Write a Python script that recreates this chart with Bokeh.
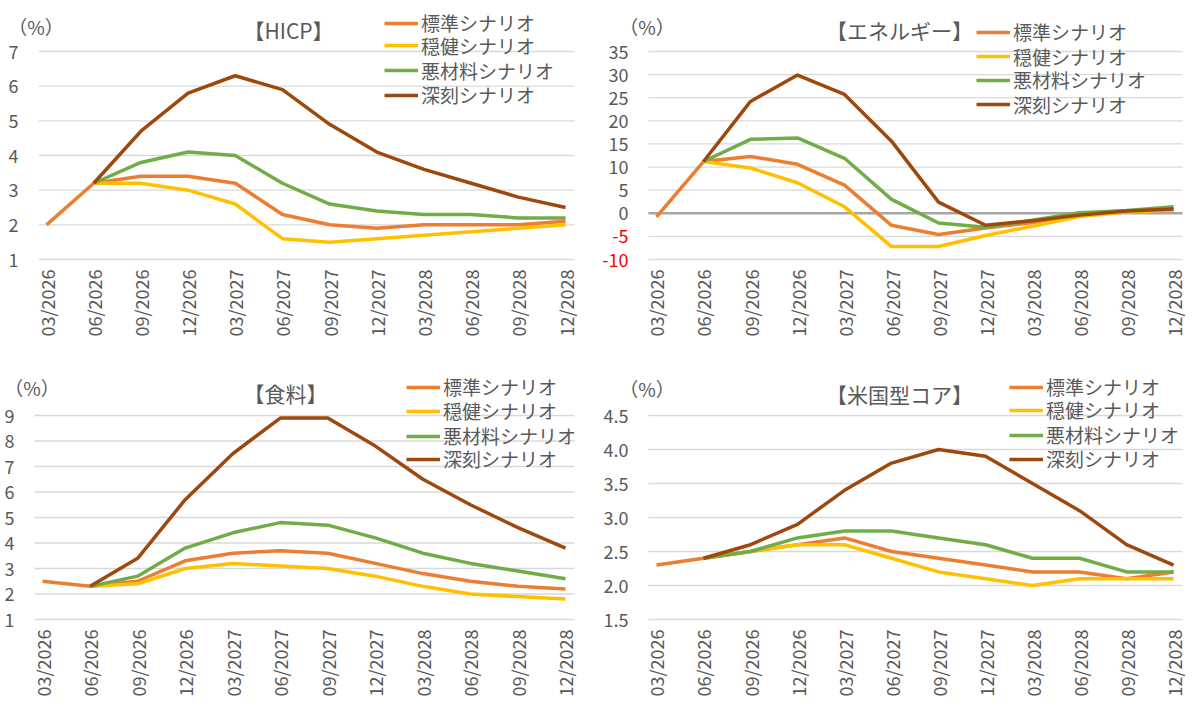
import numpy as np
from bokeh.plotting import figure
from bokeh.models import Range1d, Label, Legend, LegendItem
from bokeh.core.properties import value
from bokeh.layouts import column, row
from bokeh.embed import file_html
from bokeh.resources import INLINE

nan = float("nan")

quarters = ["03/2026", "06/2026", "09/2026", "12/2026", "03/2027", "06/2027",
            "09/2027", "12/2027", "03/2028", "06/2028", "09/2028", "12/2028"]
series_names = ["標準シナリオ", "穏健シナリオ", "悪材料シナリオ", "深刻シナリオ"]
series_colors = ["#ED7D31", "#FFC000", "#70AD47", "#9E480E"]

# HICP
hicp_standard = [2.0, 3.2, 3.4, 3.4, 3.2, 2.3, 2.0, 1.9, 2.0, 2.0, 2.0, 2.1]
hicp_mild = [nan, 3.2, 3.2, 3.0, 2.6, 1.6, 1.5, 1.6, 1.7, 1.8, 1.9, 2.0]
hicp_adverse = [nan, 3.2, 3.8, 4.1, 4.0, 3.2, 2.6, 2.4, 2.3, 2.3, 2.2, 2.2]
hicp_severe = [nan, 3.2, 4.7, 5.8, 6.3, 5.9, 4.9, 4.1, 3.6, 3.2, 2.8, 2.5]

# Energy
energy_standard = [-0.8, 11.2, 12.3, 10.6, 6.1, -2.6, -4.6, -3.2, -2.0, -0.5, 0.4, 0.8]
energy_mild = [nan, 11.2, 9.8, 6.6, 1.4, -7.2, -7.2, -4.8, -2.8, -0.7, 0.3, 0.7]
energy_adverse = [nan, 11.2, 16.0, 16.3, 11.9, 3.0, -2.1, -3.0, -1.5, 0.1, 0.6, 1.4]
energy_severe = [nan, 11.2, 24.2, 29.9, 25.7, 15.6, 2.4, -2.6, -1.6, -0.4, 0.5, 0.9]

# Food
food_standard = [2.5, 2.3, 2.5, 3.3, 3.6, 3.7, 3.6, 3.2, 2.8, 2.5, 2.3, 2.2]
food_mild = [nan, 2.3, 2.4, 3.0, 3.2, 3.1, 3.0, 2.7, 2.3, 2.0, 1.9, 1.8]
food_adverse = [nan, 2.3, 2.7, 3.8, 4.4, 4.8, 4.7, 4.2, 3.6, 3.2, 2.9, 2.6]
food_severe = [nan, 2.3, 3.4, 5.7, 7.5, 8.9, 8.9, 7.8, 6.5, 5.5, 4.6, 3.8]

# US-type core
core_standard = [2.3, 2.4, 2.5, 2.6, 2.7, 2.5, 2.4, 2.3, 2.2, 2.2, 2.1, 2.2]
core_mild = [nan, 2.4, 2.5, 2.6, 2.6, 2.4, 2.2, 2.1, 2.0, 2.1, 2.1, 2.1]
core_adverse = [nan, 2.4, 2.5, 2.7, 2.8, 2.8, 2.7, 2.6, 2.4, 2.4, 2.2, 2.2]
core_severe = [nan, 2.4, 2.6, 2.9, 3.4, 3.8, 4.0, 3.9, 3.5, 3.1, 2.6, 2.3]

hicp_ticks = [1, 2, 3, 4, 5, 6, 7]
hicp_tick_labels = ["1", "2", "3", "4", "5", "6", "7"]
energy_ticks = [-10, -5, 0, 5, 10, 15, 20, 25, 30, 35]
energy_tick_labels = ["-10", "-5", "0", "5", "10", "15", "20", "25", "30", "35"]
food_ticks = [1, 2, 3, 4, 5, 6, 7, 8, 9]
food_tick_labels = ["1", "2", "3", "4", "5", "6", "7", "8", "9"]
core_ticks = [1.5, 2.0, 2.5, 3.0, 3.5, 4.0, 4.5]
core_tick_labels = ["1.5", "2.0", "2.5", "3.0", "3.5", "4.0", "4.5"]

FONT = "Noto Sans CJK JP"
GRAY = "#595959"
X_LO, X_HI = -0.17, 11.19


def make_panel(title, series, ticks, tick_labels, W, H, area, pct_pos, title_pos,
               legend_x, legend_rows, red_negative=False, zero_line=False):
    L, R, T, B = area
    lo, hi = ticks[0], ticks[-1]
    ppx = (R - L) / (X_HI - X_LO)
    ppy = (B - T) / (hi - lo)
    x_range = Range1d(X_LO - L / ppx, X_HI + (W - R) / ppx)
    y_range = Range1d(lo - (H - B) / ppy, hi + T / ppy)
    p = figure(width=W, height=H, x_range=x_range, y_range=y_range,
               output_backend="svg", toolbar_location=None,
               x_axis_location=None, y_axis_location=None,
               min_border=0)
    p.min_border_left = 0
    p.min_border_right = 0
    p.min_border_top = 0
    p.min_border_bottom = 0
    p.outline_line_color = None
    p.background_fill_color = "white"
    p.border_fill_color = "white"
    p.grid.visible = False

    # horizontal gridlines across the plot area
    p.segment(x0=X_LO, x1=X_HI, y0=ticks, y1=ticks, line_color="#D9D9D9", line_width=1.3)
    if zero_line:
        p.segment(x0=[X_LO], x1=[X_HI], y0=[0], y1=[0], line_color="#A6A6A6", line_width=2.6)

    # y tick labels
    colors = ["#FF0000" if (red_negative and t < 0) else GRAY for t in ticks]
    p.text(x=X_LO, y=ticks, text=tick_labels, x_offset=-20,
           text_align="right", text_baseline="middle", text_color=colors,
           text_font=value(FONT), text_font_size="18px")
    # x tick labels (rotated)
    xs = np.arange(len(quarters), dtype=float)
    p.text(x=xs, y=lo, text=quarters, angle=np.pi / 2, y_offset=10,
           text_align="right", text_baseline="middle", text_color=GRAY,
           text_font=value(FONT), text_font_size="18px")

    items = []
    for name, color, ys in zip(series_names, series_colors, series):
        r = p.line(x=xs, y=np.array(ys, dtype=float), line_color=color,
                   line_width=3.5, line_join="round")
        items.append(LegendItem(label=name, renderers=[r]))

    # one legend per row, for exact row placement
    for item, row_c in zip(items, legend_rows):
        lg = Legend(items=[item], location=(legend_x, H - row_c - 14), orientation="vertical",
                    padding=0, spacing=0, margin=0,
                    border_line_color=None, background_fill_alpha=0,
                    label_text_font=FONT, label_text_font_size="19px",
                    label_text_color=GRAY, glyph_width=34, glyph_height=20,
                    label_height=20, label_standoff=3)
        p.add_layout(lg)

    p.add_layout(Label(x=pct_pos[0], y=H - pct_pos[1], x_units="screen", y_units="screen",
                       text="（%）", text_align="center", text_baseline="middle",
                       text_font=FONT, text_font_size="19px", text_color=GRAY))
    p.add_layout(Label(x=title_pos[0], y=H - title_pos[1], x_units="screen", y_units="screen",
                       text=title, text_align="center", text_baseline="middle",
                       text_font=FONT, text_font_size="21px", text_color=GRAY))
    return p


p1 = make_panel("【HICP】", [hicp_standard, hicp_mild, hicp_adverse, hicp_severe],
                hicp_ticks, hicp_tick_labels, 593, 344, (38, 574, 51, 259),
                (35.5, 25.5), (288, 29.6), 384, [22.3, 44.9, 69.5, 94.1])
p2 = make_panel("【エネルギー】", [energy_standard, energy_mild, energy_adverse, energy_severe],
                energy_ticks, energy_tick_labels, 593, 344, (55, 589, 51, 259),
                (53.5, 25.5), (306, 29.6), 383, [31.2, 55.8, 79.0, 103.6],
                red_negative=True, zero_line=True)
p3 = make_panel("【食料】", [food_standard, food_mild, food_adverse, food_severe],
                food_ticks, food_tick_labels, 593, 352, (34, 574, 71, 275),
                (31.6, 43), (285, 48), 406, [42, 66, 91, 114])
p4 = make_panel("【米国型コア】", [core_standard, core_mild, core_adverse, core_severe],
                core_ticks, core_tick_labels, 593, 352, (55, 589, 71, 275),
                (53.5, 44), (306, 49), 416, [42, 65, 90, 114])

layout = column(row(p1, p2), row(p3, p4))
open("out.html", "w").write(file_html(layout, INLINE))
